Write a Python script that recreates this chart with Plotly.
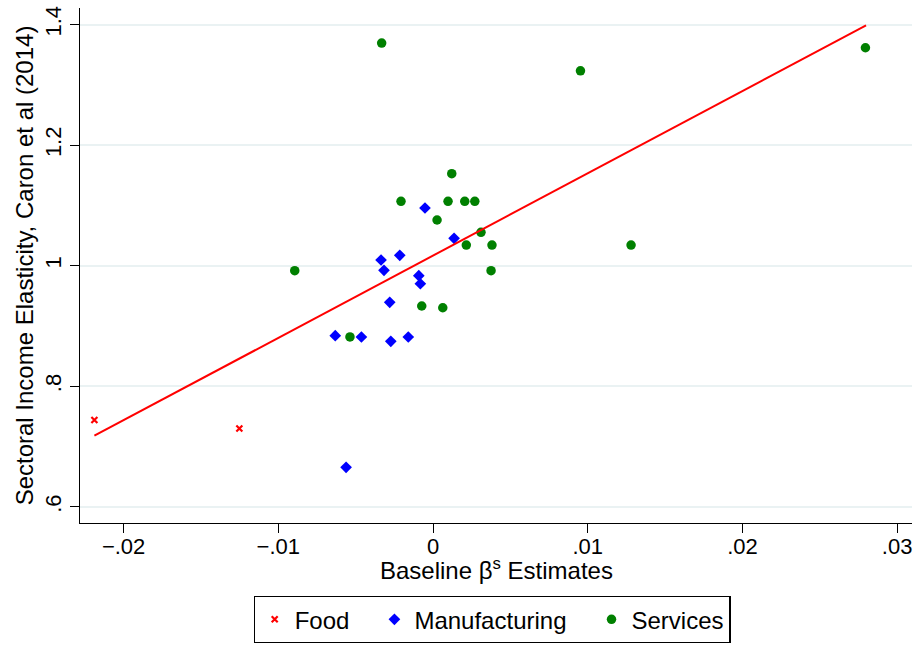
import plotly.graph_objects as go

# Food
food_x = [-0.02189, -0.01252]
food_y = [0.744, 0.730]

# Manufacturing
manu_x = [-0.00052, 0.00136, -0.00336, -0.00215, -0.00317, -0.00092, -0.00082,
          -0.00280, -0.00632, -0.00463, -0.00273, -0.00160, -0.00562]
manu_y = [1.0957, 1.0454, 1.0095, 1.0172, 0.9924, 0.9834, 0.9701,
          0.9393, 0.8839, 0.8818, 0.8746, 0.8818, 0.6657]

# Services
serv_x = [-0.00332, 0.00121, 0.00953, 0.02795, -0.00207, 0.00097, 0.00205, 0.00270,
          0.00026, 0.00310, 0.00215, 0.00381, 0.01280, -0.00894, 0.00375,
          -0.00073, 0.00063, -0.00537]
serv_y = [1.3693, 1.1526, 1.3232, 1.3615, 1.1068, 1.1068, 1.1068, 1.1068,
          1.0758, 1.0554, 1.0343, 1.0343, 1.0343, 0.9917, 0.9917,
          0.9332, 0.9303, 0.8818]

# Fitted line endpoints
fit_x = [-0.02189, 0.02799]
fit_y = [0.7181, 1.3987]

x_tickvals = [-0.02, -0.01, 0, 0.01, 0.02, 0.03]
x_ticktext = ["\u2212.02", "\u2212.01", "0", ".01", ".02", ".03"]
y_tickvals = [0.6, 0.8, 1.0, 1.2, 1.4]
y_ticktext = [".6", ".8", "1", "1.2", "1.4"]

FONT = "Liberation Sans, Arial, sans-serif"
NB = "\u00a0"

fig = go.Figure()
fig.add_trace(go.Scatter(x=food_x, y=food_y, mode="markers", name="Food" + NB * 3,
                         marker=dict(symbol="x-thin", size=6, color="red",
                                     line=dict(color="red", width=2.2))))
fig.add_trace(go.Scatter(x=manu_x, y=manu_y, mode="markers", name="Manufacturing" + NB * 3,
                         marker=dict(symbol="diamond", size=9, color="#0000ff",
                                     line=dict(width=0))))
fig.add_trace(go.Scatter(x=serv_x, y=serv_y, mode="markers", name="Services",
                         marker=dict(symbol="circle", size=9.5, color="#008000",
                                     line=dict(width=0))))
fig.add_trace(go.Scatter(x=fit_x, y=fit_y, mode="lines", showlegend=False,
                         line=dict(color="red", width=2)))

fig.update_layout(
    width=917, height=645,
    margin=dict(l=80, r=5, t=8, b=122, autoexpand=False),
    paper_bgcolor="white", plot_bgcolor="white",
    font=dict(family=FONT, size=23, color="black"),
    showlegend=True,
    legend=dict(orientation="h", x=0.5 - 4 / 832, xanchor="center",
                y=(645 - 643) / 645, yanchor="bottom",
                xref="paper", yref="container",
                bordercolor="black", borderwidth=1.2,
                font=dict(family=FONT, size=24, color="black")),
    xaxis=dict(range=[-0.02282, 0.03096], tickmode="array",
               tickvals=x_tickvals, ticktext=x_ticktext,
               showgrid=False, zeroline=False, automargin=False,
               showline=True, linecolor="black", linewidth=1.2,
               ticks="outside", ticklen=9, tickwidth=1.2, tickcolor="black",
               ticklabelstandoff=-6,
               tickfont=dict(size=22)),
    yaxis=dict(range=[0.5733, 1.4274], tickmode="array",
               tickvals=y_tickvals, ticktext=y_ticktext, tickangle=-90,
               showgrid=True, gridcolor="#eaf2f3", gridwidth=1.5,
               zeroline=False, automargin=False,
               showline=True, linecolor="black", linewidth=1.2,
               ticks="outside", ticklen=9, tickwidth=1.2, tickcolor="black",
               tickfont=dict(size=22),
               title=dict(text="Sectoral Income Elasticity, Caron et al (2014)",
                          font=dict(size=24), standoff=0)),
    annotations=[dict(text="Baseline \u03b2<sup>s</sup> Estimates",
                      xref="paper", yref="paper", x=0.5, y=-0.089,
                      xanchor="center", yanchor="middle", showarrow=False,
                      font=dict(family=FONT, size=24, color="black"))],
)

fig.write_html("out.html")
